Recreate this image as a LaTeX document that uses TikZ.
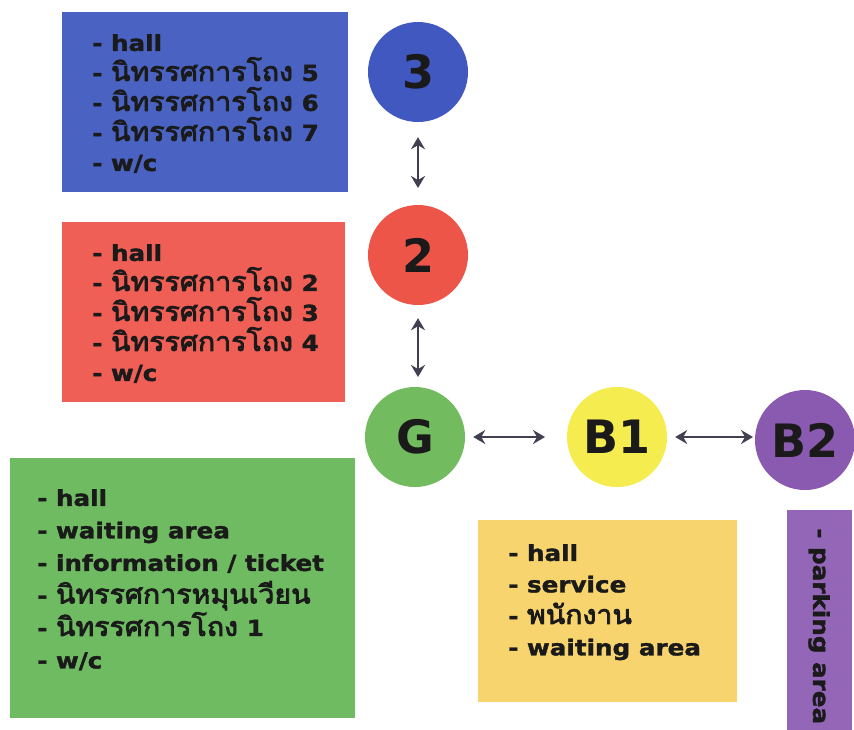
\documentclass[tikz,border=0pt]{standalone}
\usepackage{fontspec}
\setmainfont{DejaVu Sans}
\newfontfamily\listfont[FakeStretch=1.12,BoldFeatures={FakeBold=1.5}]{DejaVu Sans}
\newfontfamily\thaifnt[Script=Thai,Scale=1.2,FakeStretch=1.08,AutoFakeBold=3]{Loma}
\usetikzlibrary{arrows.meta}
\definecolor{cblue}{HTML}{4A63C2}
\definecolor{cbluec}{HTML}{4158C0}
\definecolor{cred}{HTML}{EF5F55}
\definecolor{credc}{HTML}{EC5548}
\definecolor{cgreen}{HTML}{6FBB62}
\definecolor{cgreenc}{HTML}{72BB5F}
\definecolor{cyellowc}{HTML}{F5EC50}
\definecolor{cyellow}{HTML}{F7D46E}
\definecolor{cpurplec}{HTML}{8A5AB0}
\definecolor{cpurple}{HTML}{9466B8}
\definecolor{ink}{HTML}{1A1A1A}
\definecolor{arrowc}{HTML}{404050}
\newcommand{\thx}[1]{{\thaifnt\bfseries #1}}
\begin{document}
\begin{tikzpicture}[x=1pt,y=-1pt,
  box/.style={draw=none,inner sep=0pt,anchor=north west},
  list/.style={inner sep=0pt,anchor=north west,align=left,text=ink,
    font=\listfont\fontsize{22}{30}\selectfont\bfseries},
  floor/.style={circle,inner sep=0pt,minimum size=100pt,text=ink,
    font=\fontsize{46}{50}\selectfont\bfseries},
  link/.style={{Stealth[length=12pt,width=14pt,inset=4pt]}-{Stealth[length=12pt,width=14pt,inset=4pt]},
    line width=2.6pt,draw=arrowc}]
\useasboundingbox (0,0) rectangle (854,729);
\fill[white] (0,0) rectangle (854,729);
% boxes
\node[box,fill=cblue,minimum width=286pt,minimum height=180pt] (b3) at (62,12) {};
\node[box,fill=cred,minimum width=283pt,minimum height=180pt] (b2) at (62,222) {};
\node[box,fill=cgreen,minimum width=345pt,minimum height=260pt] (bg) at (10,458) {};
\node[box,fill=cyellow,minimum width=259pt,minimum height=182pt] (bb1) at (478,520) {};
\node[box,fill=cpurple,minimum width=65pt,minimum height=220pt] (bb2) at (787,510) {};
% lists
\node[list] (l3) at (92,34) {- hall\\- \thx{นิทรรศการโถง} 5\\- \thx{นิทรรศการโถง} 6\\- \thx{นิทรรศการโถง} 7\\- w/c};
\node[list] (l2) at (92,244) {- hall\\- \thx{นิทรรศการโถง} 2\\- \thx{นิทรรศการโถง} 3\\- \thx{นิทรรศการโถง} 4\\- w/c};
\node[list,font=\listfont\fontsize{22}{32.5}\selectfont\bfseries] (lg) at (37,489) {- hall\\- waiting area\\- information / ticket\\- \thx{นิทรรศการหมุนเวียน}\\- \thx{นิทรรศการโถง} 1\\- w/c};
\node[list,font=\listfont\fontsize{22}{31.5}\selectfont\bfseries] (lb1) at (508,544) {- hall\\- service\\- \thx{พนักงาน}\\- waiting area};
\node[list,rotate=-90,anchor=north west] (lb2) at (830,528) {- parking area};
% floors
\node[floor,fill=cbluec] (f3) at (418,72) {3};
\node[floor,fill=credc] (f2) at (418,255) {2};
\node[floor,fill=cgreenc] (fg) at (415,437) {G};
\node[floor,fill=cyellowc] (fb1) at (617,437) {B1};
\node[floor,fill=cpurplec] (fb2) at (805,440) {B2};
% links
\coordinate (a2top) at ([yshift=-15pt]f3.south);
\draw[link] (a2top) -- (a2top |- 0,188);
\coordinate (ag) at ([yshift=-13pt]f2.south);
\draw[link] (ag) -- (ag |- 0,377);
\coordinate (ab1) at ([xshift=8pt]fg.east);
\draw[link] (ab1) -- (545,437);
\coordinate (ab2) at ([xshift=8pt]fb1.east);
\draw[link] (ab2) -- (753,437);
\end{tikzpicture}
\end{document}
